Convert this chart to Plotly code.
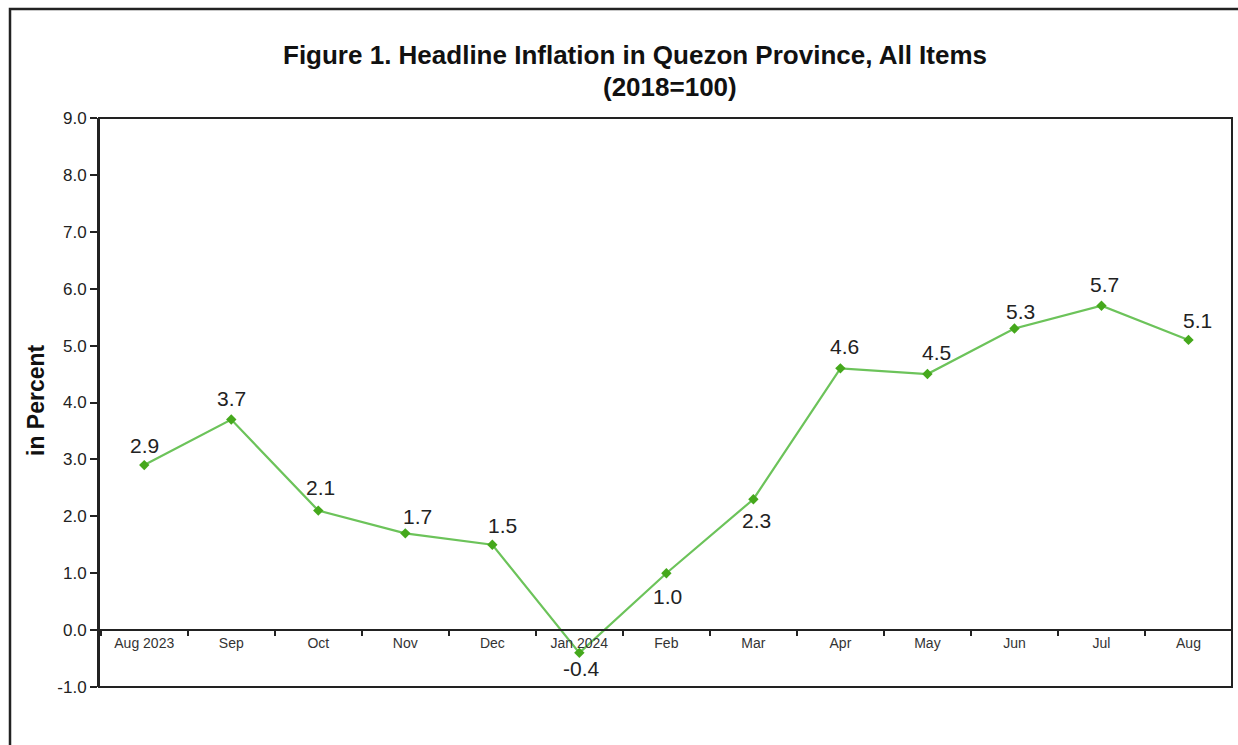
import plotly.graph_objects as go

months = ["Aug 2023", "Sep", "Oct", "Nov", "Dec", "Jan 2024", "Feb", "Mar",
          "Apr", "May", "Jun", "Jul", "Aug"]
inflation = [2.9, 3.7, 2.1, 1.7, 1.5, -0.4, 1.0, 2.3, 4.6, 4.5, 5.3, 5.7, 5.1]
y_ticks = [-1, 0, 1, 2, 3, 4, 5, 6, 7, 8, 9]

# label offsets (pixels) relative to each point: styling only
label_dx = [0, 0, 2, 12, 10, 2, 1, 3, 4, 9, 6, 3, 9]
label_dy = [20, 21, 23, 17, 19, -16, -23, -21, 22, 22, 17, 21, 19]

W, H = 1238, 745
L, R, T, B = 99, 1232, 118, 687

def px(x):
    return (x - L) / (R - L)

def py(y):
    return (B - y) / (B - T)

fig = go.Figure()
fig.add_trace(go.Scatter(
    x=months, y=inflation, mode="lines+markers",
    line=dict(color="#6cc35a", width=2.2),
    marker=dict(symbol="diamond", size=8, color="#45a81c"),
    cliponaxis=False, showlegend=False, hoverinfo="skip",
))

annotations = [
    dict(x=m, y=v, xref="x", yref="y", text=f"{v:.1f}", showarrow=False,
         xshift=dx, yshift=dy, xanchor="center", yanchor="middle",
         font=dict(family="Liberation Sans, Arial", size=21, color="#222222"))
    for m, v, dx, dy in zip(months, inflation, label_dx, label_dy)
]
annotations += [
    dict(text="<b>Figure 1. Headline Inflation in Quezon Province, All Items</b>",
         xref="paper", yref="paper", x=px(635), y=py(55), showarrow=False,
         xanchor="center", yanchor="middle",
         font=dict(size=26, color="#111111")),
    dict(text="<b>(2018=100)</b>",
         xref="paper", yref="paper", x=px(670), y=py(87), showarrow=False,
         xanchor="center", yanchor="middle",
         font=dict(size=26, color="#111111")),
    dict(text="<b>in Percent</b>", textangle=-90,
         xref="paper", yref="paper", x=px(36), y=py(400), showarrow=False,
         xanchor="center", yanchor="middle",
         font=dict(size=23, color="#111111")),
]

fig.update_layout(
    width=W, height=H,
    margin=dict(l=L, r=W - R, t=T, b=H - B),
    paper_bgcolor="white", plot_bgcolor="white",
    font=dict(family="Liberation Sans, Arial", color="#222222"),
    xaxis=dict(
        type="category", categoryorder="array", categoryarray=months,
        anchor="free", position=0.1, showline=True, linecolor="#222222", linewidth=1.5,
        ticks="outside", tickson="boundaries", ticklen=5, tickwidth=2, tickcolor="#222222",
        tickfont=dict(size=14, color="#333333"), showgrid=False, zeroline=False,
        range=[-0.52, 12.5],
    ),
    yaxis=dict(
        range=[-1, 9], tickvals=y_ticks, ticktext=[f"{v:.1f}" for v in y_ticks],
        ticks="outside", ticklen=7, tickwidth=1.5, tickcolor="#222222",
        tickfont=dict(size=17, color="#222222"), showgrid=False, zeroline=False,
        showline=True, linecolor="#222222", linewidth=2,
    ),
    shapes=[
        dict(type="rect", xref="paper", yref="paper", x0=0, x1=1, y0=0, y1=1,
             line=dict(color="#222222", width=2)),
        dict(type="rect", xref="paper", yref="paper", x0=px(10), x1=px(1270),
             y0=py(790), y1=py(9), line=dict(color="#222222", width=2.5)),
    ],
    annotations=annotations,
)

fig.write_html("out.html", config={"displayModeBar": False},
               post_script="document.body.style.margin='0';document.body.style.overflow='hidden';")
